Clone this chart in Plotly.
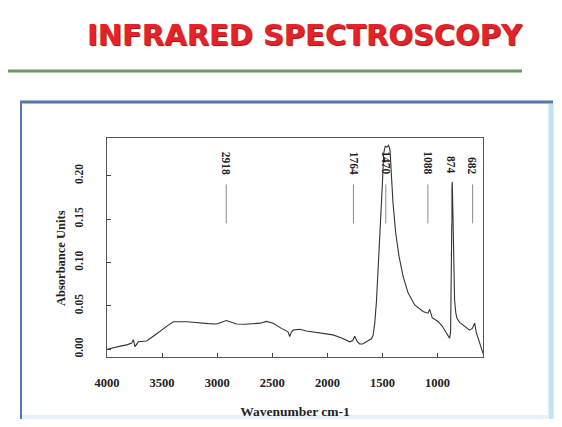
import plotly.graph_objects as go

# ---- data ----
wavenumber = [4000, 3940, 3879, 3820, 3776, 3761, 3746, 3716, 3680, 3640, 3580, 3490, 3440, 3399,
              3340, 3278, 3220, 3157, 3080, 3006, 2960, 2916, 2870, 2825, 2750, 2674, 2610, 2553,
              2493, 2417, 2357, 2342, 2330, 2312, 2252, 2190, 2130, 2040, 1949, 1870, 1798, 1770,
              1752, 1730, 1707, 1680, 1646, 1620, 1601, 1585, 1570, 1555, 1540, 1519, 1501, 1489,
              1475, 1460, 1445, 1432, 1420, 1405, 1380, 1350, 1313, 1268, 1208, 1170, 1132, 1100,
              1087, 1072, 1060, 1048, 1020, 997, 960, 937, 910, 891, 882, 875, 867, 860, 853, 846,
              835, 825, 800, 770, 740, 710, 685, 664, 655, 649, 626, 604, 588]
absorbance = [0.000, 0.002, 0.0035, 0.005, 0.007, 0.011, 0.003, 0.0085, 0.009, 0.0095, 0.015, 0.024,
              0.028, 0.0316, 0.0318, 0.0316, 0.031, 0.030, 0.0295, 0.029, 0.031, 0.033, 0.031, 0.029,
              0.0288, 0.029, 0.030, 0.032, 0.030, 0.024, 0.020, 0.0145, 0.019, 0.022, 0.023, 0.021,
              0.020, 0.018, 0.0165, 0.013, 0.0085, 0.010, 0.015, 0.009, 0.006, 0.006, 0.0085, 0.010,
              0.012, 0.016, 0.030, 0.055, 0.087, 0.145, 0.191, 0.226, 0.234, 0.233, 0.235, 0.230,
              0.203, 0.169, 0.134, 0.107, 0.084, 0.065, 0.051, 0.047, 0.0435, 0.042, 0.0416, 0.046,
              0.040, 0.036, 0.034, 0.032, 0.027, 0.022, 0.017, 0.0127, 0.020, 0.100, 0.193, 0.150,
              0.090, 0.057, 0.042, 0.036, 0.031, 0.028, 0.025, 0.022, 0.024, 0.030, 0.024, 0.019,
              0.0105, 0.0015, -0.005]
peak_labels = [2918, 1764, 1470, 1088, 874, 682]
x_ticks = [4000, 3500, 3000, 2500, 2000, 1500, 1000]
y_ticks = [0.00, 0.05, 0.10, 0.15, 0.20]
y_tick_text = ["0.00", "0.05", "0.10", "0.15", "0.20"]

OFF = 8  # page body margin
W, H = 562 - 2 * OFF, 427 - 2 * OFF
L, R, T, B = 107 - OFF, 483 - OFF, 138 - OFF, 357 - OFF


def px(xp):
    return (xp - OFF - L) / (R - L)


def py(yp):
    return (B - (yp - OFF)) / (B - T)


serif = "Liberation Serif"

fig = go.Figure()
fig.add_trace(go.Scatter(x=wavenumber, y=absorbance, mode="lines",
                         line=dict(color="#333333", width=1.1), hoverinfo="skip",
                         showlegend=False))

shapes = []
annotations = []

# peak marker lines and labels
for p in peak_labels:
    shapes.append(dict(type="line", xref="x", yref="y", x0=p, x1=p, y0=0.145, y1=0.190,
                       line=dict(color="#8a8a8a", width=1)))
    annotations.append(dict(x=p, y=0.199, xref="x", yref="y", text=str(p), showarrow=False,
                            textangle=90, xanchor="center", yanchor="bottom",
                            font=dict(family=serif, size=11.5, color="#222222", weight="bold")))

# slide decoration: green rule, blue frame
shapes.append(dict(type="line", xref="paper", yref="paper", x0=px(5), x1=px(522),
                   y0=py(71), y1=py(71), line=dict(color="#6b9a5e", width=3)))
shapes.append(dict(type="line", xref="paper", yref="paper", x0=px(551), x1=px(551),
                   y0=py(104), y1=py(419), line=dict(color="#c4e0f5", width=5)))
shapes.append(dict(type="line", xref="paper", yref="paper", x0=px(20), x1=px(553),
                   y0=py(102), y1=py(102), line=dict(color="#4f79a8", width=3)))
shapes.append(dict(type="line", xref="paper", yref="paper", x0=px(21), x1=px(21),
                   y0=py(102), y1=py(419), line=dict(color="#5a78b8", width=2)))
shapes.append(dict(type="line", xref="paper", yref="paper", x0=px(22), x1=px(549),
                   y0=py(417), y1=py(417), line=dict(color="#e4f3fb", width=4)))

# slide title
annotations.append(dict(x=px(305), y=py(35), xref="paper", yref="paper",
                        text="INFRARED SPECTROSCOPY", showarrow=False,
                        xanchor="center", yanchor="middle",
                        font=dict(family="DejaVu Sans", size=29, color="#e5222c", weight="bold",
                                  shadow="1px 1px 1px #7a1010")))

# y axis title
annotations.append(dict(x=px(61), y=py(258), xref="paper", yref="paper",
                        text="Absorbance Units", showarrow=False, textangle=-90,
                        xanchor="center", yanchor="middle",
                        font=dict(family=serif, size=12.5, color="#222222", weight="bold")))

fig.update_layout(
    width=W, height=H,
    margin=dict(l=L, r=W - R, t=T, b=H - B, pad=0),
    paper_bgcolor="white", plot_bgcolor="white",
    shapes=shapes, annotations=annotations,
    xaxis=dict(range=[4000, 588], tickvals=x_ticks, ticks="inside", ticklen=4,
               tickcolor="#444444", showgrid=False, zeroline=False, automargin=False,
               showline=True, linecolor="#555555", linewidth=1, mirror=True,
               ticklabelstandoff=14,
               tickfont=dict(family=serif, size=12.5, color="#222222", weight="bold"),
               title=dict(text="Wavenumber cm-1", standoff=17,
                          font=dict(family=serif, size=13.5, color="#222222", weight="bold"))),
    yaxis=dict(range=[-0.009, 0.2435], tickvals=y_ticks, ticktext=y_tick_text,
               ticks="inside", ticklen=4, tickcolor="#444444", tickangle=-90,
               ticklabelstandoff=18, automargin=False,
               showgrid=False, zeroline=False,
               showline=True, linecolor="#555555", linewidth=1, mirror=True,
               tickfont=dict(family=serif, size=11.5, color="#222222", weight="bold")),
)

fig.write_html("out.html")
